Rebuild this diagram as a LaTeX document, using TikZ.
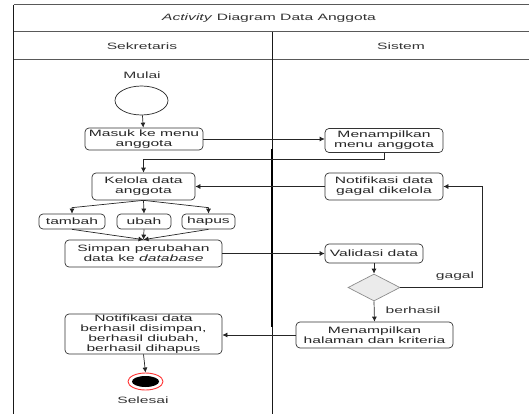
\documentclass[tikz,border=0pt]{standalone}
\usepackage{fontspec}
\setmainfont{Liberation Sans}[FakeStretch=1.7]
\usetikzlibrary{shapes.geometric,arrows.meta,calc}

\newcommand\diagfont{\fontsize{9.2}{10}\selectfont}

\tikzset{
  box/.style={draw=black!80, line width=0.7pt, rounded corners=4pt,
    inner sep=0pt, align=center, font=\diagfont, text=black!85},
  conn/.style={line width=0.7pt, draw=black!85,
    -{Latex[length=5pt,width=5pt]}},
  plain/.style={line width=0.7pt, draw=black!85},
  lane/.style={line width=1pt, draw=black!65},
  lbl/.style={font=\diagfont, text=black!80, inner sep=0pt},
}

\begin{document}
\begin{tikzpicture}[x=1pt,y=-1pt]
\useasboundingbox (0,0) rectangle (529,414);

% swimlane frame
\draw[lane] (13.5,5) -- (529,5);
\draw[lane] (13.5,32) -- (529,32);
\draw[lane] (13.5,59.5) -- (529,59.5);
\draw[line width=1.4pt, draw=black!90] (13.5,5) -- (13.5,414);
\draw[line width=0.8pt, draw=black!90] (272.8,32) -- (272.8,414);
\draw[line width=2pt, draw=black] (272.3,149) -- (272.3,327);

\node[lbl] (title) at (269,18.5) {\textit{Activity} Diagram Data Anggota};
\node[lbl] (lane1) at (142,46) {Sekretaris};
\node[lbl] (lane2) at (401,46) {Sistem};

% Sekretaris lane
\node[lbl] (mulai) at (142,75) {Mulai};
\node[draw=black!85, line width=0.7pt, ellipse, minimum width=53pt,
  minimum height=29pt, inner sep=0pt] (start) at (141.5,100.5) {};
\node[box, minimum width=118pt, minimum height=22pt] (masuk) at (144,139)
  {Masuk ke menu\\anggota};
\node[box, minimum width=103pt, minimum height=27pt] (kelola) at (143.5,186.5)
  {Kelola data\\anggota};
\node[box, minimum width=66pt, minimum height=15pt] (tambah) at (72,221.5) {tambah};
\node[box, minimum width=54pt, minimum height=15pt] (ubah) at (144,221.5) {ubah};
\node[box, minimum width=53pt, minimum height=15pt] (hapus) at (208.5,221.5) {hapus};
\node[box, minimum width=157pt, minimum height=27pt] (simpan) at (143.5,253.5)
  {Simpan perubahan\\data ke \textit{database}};
\node[box, minimum width=157pt, minimum height=40pt] (berhasilbox) at (143.5,334)
  {Notifikasi data\\berhasil disimpan,\\berhasil diubah,\\berhasil dihapus};
\node[ellipse, draw=red!80, line width=0.9pt, fill=white, minimum width=35pt,
  minimum height=17pt, inner sep=0pt] (end) at (145.5,381.5) {};
\node[ellipse, fill=black, minimum width=27pt, minimum height=11pt,
  inner sep=0pt] (endcore) at (end.center) {};
\node[lbl] (selesai) at (143,400) {Selesai};

% Sistem lane
\node[box, minimum width=118pt, minimum height=24pt] (menu) at (384,140.5)
  {Menampilkan\\menu anggota};
\node[box, minimum width=118pt, minimum height=27pt] (gagalbox) at (384,186.5)
  {Notifikasi data\\gagal dikelola};
\node[box, minimum width=98pt, minimum height=19pt] (validasi) at (374,253.5)
  {Validasi data};
\node[diamond, draw=black!45, line width=0.7pt, fill=black!8, minimum width=52pt,
  minimum height=27pt, inner sep=0pt] (cek) at (374,287.5) {};
\node[box, minimum width=157pt, minimum height=26pt] (halaman) at (374.5,335)
  {Menampilkan\\halaman dan kriteria};

% flow
\draw[conn] (start) -- (masuk);
\draw[conn] (masuk.east) -- (menu.west |- masuk.east);
\draw[conn] (menu.south) -- ++(0,6.5) -| (kelola.north);
\draw[conn] (gagalbox.west) -- (kelola.east);
\draw[conn] (kelola.south) -- ($(tambah.north)+(0,-6)$) -- (tambah.north);
\draw[conn] (kelola.south) -- (ubah.north);
\draw[conn] (kelola.south) -- ($(hapus.north)+(0,-6)$) -- (hapus.north);
\draw[conn] (tambah.south) -- (simpan.north);
\draw[conn] (ubah.south) -- (simpan.north);
\draw[conn] (hapus.south) -- (simpan.north);
\draw[conn] (simpan.east) -- (validasi.west |- simpan.east);
\draw[conn] (validasi.south) -- (cek.north);
\draw[conn] (cek.east) -- ++(82,0) |- (gagalbox.east);
\node[lbl] (gagal) at (455,276) {gagal};
\draw[conn] (cek.south) -- (halaman.north);
\node[lbl] (berhasil) at (413,310) {berhasil};
\draw[conn] (halaman.west) -- (berhasilbox.east |- halaman.west);
\draw[conn] (berhasilbox.south) -- (end.north);
\end{tikzpicture}
\end{document}
